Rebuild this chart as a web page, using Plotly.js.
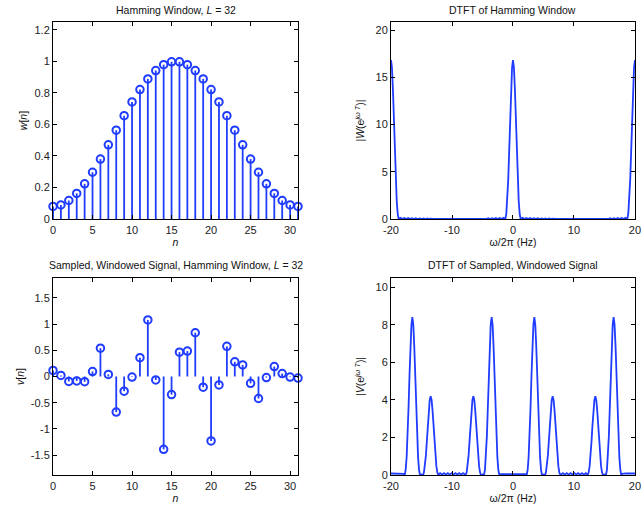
<!DOCTYPE html>
<html>
<head>
<meta charset="utf-8">
<script src="https://cdn.plot.ly/plotly-3.0.1.min.js"></script>
<style>html,body{margin:0;padding:0;background:#fff;}</style>
</head>
<body>
<div id="chart" style="width:641px;height:506px;"></div>
<script>
// ---- data ----
const sampleIndex = [0,1,2,3,4,5,6,7,8,9,10,11,12,13,14,15,16,17,18,19,20,21,22,23,24,25,26,27,28,29,30,31];
const hammingW = [0.08,0.0894,0.1173,0.1624,0.2231,0.2967,0.3802,0.4704,0.5633,0.6553,0.7426,0.8216,0.8890,0.9422,0.9793,0.9977,
                  0.9977,0.9793,0.9422,0.8890,0.8216,0.7426,0.6553,0.5633,0.4704,0.3802,0.2967,0.2231,0.1624,0.1173,0.0894,0.08];
const windowedV = [0.115,0.02,-0.095,-0.085,-0.10,0.095,0.54,0.04,-0.68,-0.28,-0.01,0.36,1.08,-0.065,-1.39,-0.345,
                   0.465,0.485,0.835,-0.205,-1.23,-0.16,0.575,0.28,0.22,-0.13,-0.42,-0.02,0.19,0.055,-0.01,-0.03];

const dtftFreqW = [-20,-19.844,-19.688,-19.531,-19.375,-19.219,-19.063,-18.906,-18.75,
  -18.438,-18.125,-17.813,-17.5,-17.188,-16.875,-16.563,-16.25,-15.938,-15.625,-15.313,-15,-14.688,-14.375,-14.063,-13.75,-13.438,-13.125,
  -10,-6.875,
  -6.563,-6.25,-5.938,-5.625,-5.313,-5,-4.688,-4.375,-4.063,-3.75,-3.438,-3.125,-2.813,-2.5,-2.188,-1.875,-1.563,-1.25,
  -1.094,-0.938,-0.781,-0.625,-0.469,-0.313,-0.156,0,0.156,0.313,0.469,0.625,0.781,0.938,1.094,1.25,
  1.563,1.875,2.188,2.5,2.813,3.125,3.438,3.75,4.063,4.375,4.688,5,5.313,5.625,5.938,6.25,6.563,6.875,
  10,13.125,
  13.438,13.75,14.063,14.375,14.688,15,15.313,15.625,15.938,16.25,16.563,16.875,17.188,17.5,17.813,18.125,18.438,18.75,
  18.906,19.063,19.219,19.375,19.531,19.688,19.844,20];
const dtftMagW = [16.82,16.0,13.74,10.58,7.16,4.14,1.90,0.57,0,
  0.12,0,0.11,0,0.10,0,0.09,0,0.08,0,0.07,0,0.06,0,0.05,0,0.04,0.01,
  0.02,0.01,
  0.04,0,0.05,0,0.06,0,0.07,0,0.08,0,0.09,0,0.10,0,0.11,0,0.12,0,
  0.57,1.90,4.14,7.16,10.58,13.74,16.0,16.82,16.0,13.74,10.58,7.16,4.14,1.90,0.57,0,
  0.12,0,0.11,0,0.10,0,0.09,0,0.08,0,0.07,0,0.06,0,0.05,0,0.04,0.01,
  0.02,0.01,
  0.04,0,0.05,0,0.06,0,0.07,0,0.08,0,0.09,0,0.10,0,0.11,0,0.12,0,
  0.57,1.90,4.14,7.16,10.58,13.74,16.0,16.82];

const dtftFreqV = [-20,-18.5,-17.9,
  -17.75,-17.594,-17.438,-17.281,-17.125,-16.969,-16.813,-16.656,-16.5,-16.344,-16.188,-16.031,-15.875,-15.719,-15.563,-15.406,-15.25,
  -15,
  -14.75,-14.594,-14.438,-14.281,-14.125,-13.969,-13.813,-13.656,-13.5,-13.344,-13.188,-13.031,-12.875,-12.719,-12.563,-12.406,-12.25,
  -11.938,-11.625,-11.313,-11,-10.688,-10.375,-10.063,-9.75,-9.438,-9.125,-8.813,-8.5,-8.188,-7.875,
  -7.75,-7.594,-7.438,-7.281,-7.125,-6.969,-6.813,-6.656,-6.5,-6.344,-6.188,-6.031,-5.875,-5.719,-5.563,-5.406,-5.25,
  -5,
  -4.75,-4.594,-4.438,-4.281,-4.125,-3.969,-3.813,-3.656,-3.5,-3.344,-3.188,-3.031,-2.875,-2.719,-2.563,-2.406,-2.25,
  -2,0,2,
  2.25,2.406,2.563,2.719,2.875,3.031,3.188,3.344,3.5,3.656,3.813,3.969,4.125,4.281,4.438,4.594,4.75,
  5,
  5.25,5.406,5.563,5.719,5.875,6.031,6.188,6.344,6.5,6.656,6.813,6.969,7.125,7.281,7.438,7.594,7.75,
  7.875,8.188,8.5,8.813,9.125,9.438,9.75,10.063,10.375,10.688,11,11.313,11.625,11.938,
  12.25,12.406,12.563,12.719,12.875,13.031,13.188,13.344,13.5,13.656,13.813,13.969,14.125,14.281,14.438,14.594,14.75,
  15,
  15.25,15.406,15.563,15.719,15.875,16.031,16.188,16.344,16.5,16.656,16.813,16.969,17.125,17.281,17.438,17.594,17.75,
  17.9,18.5,20];
const dtftMagV = [0.08,0.08,0.06,
  0,0.29,0.95,2.07,3.58,5.29,6.87,8.0,8.41,8.0,6.87,5.29,3.58,2.07,0.95,0.29,0,
  0.03,
  0,0.14,0.47,1.03,1.79,2.64,3.43,3.99,4.2,3.99,3.43,2.64,1.79,1.03,0.47,0.14,0,
  0.1,0.02,0.1,0.02,0.1,0.02,0.1,0.02,0.1,0.02,0.1,0.02,0.1,0.02,
  0,0.14,0.47,1.03,1.79,2.64,3.43,3.99,4.2,3.99,3.43,2.64,1.79,1.03,0.47,0.14,0,
  0.03,
  0,0.29,0.95,2.07,3.58,5.29,6.87,8.0,8.41,8.0,6.87,5.29,3.58,2.07,0.95,0.29,0,
  0.05,0.05,0.05,
  0,0.29,0.95,2.07,3.58,5.29,6.87,8.0,8.41,8.0,6.87,5.29,3.58,2.07,0.95,0.29,0,
  0.03,
  0,0.14,0.47,1.03,1.79,2.64,3.43,3.99,4.2,3.99,3.43,2.64,1.79,1.03,0.47,0.14,0,
  0.02,0.1,0.02,0.1,0.02,0.1,0.02,0.1,0.02,0.1,0.02,0.1,0.02,0.1,
  0,0.14,0.47,1.03,1.79,2.64,3.43,3.99,4.2,3.99,3.43,2.64,1.79,1.03,0.47,0.14,0,
  0.03,
  0,0.29,0.95,2.07,3.58,5.29,6.87,8.0,8.41,8.0,6.87,5.29,3.58,2.07,0.95,0.29,0,
  0.06,0.08,0.08];

const freqTickVals = [-20,-10,0,10,20];
const freqTickText = ['-20','-10','0','10','20'];
const vTickVals = [-1.5,-1,-0.5,0,0.5,1,1.5];
const vTickText = ['-1.5','-1','-0.5','0','0.5','1','1.5'];

// ---- drawing ----
const BLUE = '#1f3cff';
function stems(xs, ys) {
  const sx = [], sy = [];
  xs.forEach((x, i) => { sx.push(x, x, null); sy.push(0, ys[i], null); });
  return {sx, sy};
}
const s1 = stems(sampleIndex, hammingW);
const s3 = stems(sampleIndex, windowedV);

const markerStyle = {symbol: 'circle-open', size: 7.5, color: BLUE, line: {width: 2, color: BLUE}};
const traces = [
  {x: s1.sx, y: s1.sy, mode: 'lines', line: {color: BLUE, width: 1.8}, xaxis: 'x', yaxis: 'y', hoverinfo: 'skip'},
  {x: sampleIndex, y: hammingW, mode: 'markers', marker: markerStyle, xaxis: 'x', yaxis: 'y', cliponaxis: false},
  {x: dtftFreqW, y: dtftMagW, mode: 'lines', line: {color: BLUE, width: 1.8}, xaxis: 'x2', yaxis: 'y2'},
  {x: s3.sx, y: s3.sy, mode: 'lines', line: {color: BLUE, width: 1.8}, xaxis: 'x3', yaxis: 'y3', hoverinfo: 'skip'},
  {x: sampleIndex, y: windowedV, mode: 'markers', marker: markerStyle, xaxis: 'x3', yaxis: 'y3', cliponaxis: false},
  {x: dtftFreqV, y: dtftMagV, mode: 'lines', line: {color: BLUE, width: 1.8}, xaxis: 'x4', yaxis: 'y4'}
];

const FONT = 'Liberation Sans, Arial, Helvetica, sans-serif';
const tickFont = {family: FONT, size: 11, color: '#222'};
const titleFont = {family: FONT, size: 10.5, color: '#111'};
function ax(extra) {
  return Object.assign({
    showline: true, linecolor: '#000', linewidth: 1, mirror: 'ticks',
    ticks: 'inside', ticklen: 4, tickcolor: '#000', tickwidth: 1,
    showgrid: false, zeroline: false, tickfont: tickFont, fixedrange: true,
    ticklabeloverflow: 'allow'
  }, extra);
}
const L1 = [0.0827, 0.4649], L2 = [0.610, 0.9906];
const T = [0.5672, 0.9565], B = [0.0613, 0.4506];

const layout = {
  width: 641, height: 506,
  margin: {l: 0, r: 0, t: 0, b: 0},
  paper_bgcolor: '#fff', plot_bgcolor: '#fff',
  showlegend: false,
  font: {family: FONT, color: '#111'},
  xaxis: ax({domain: L1, anchor: 'y', range: [0, 31], dtick: 5, tick0: 0, ticklabelstandoff: 1,
    title: {text: '<i>n</i>', font: titleFont, standoff: 2}}),
  yaxis: ax({domain: T, anchor: 'x', range: [0, 1.25], dtick: 0.2, tick0: 0,
    title: {text: '<i>w</i>[<i>n</i>]', font: titleFont, standoff: 4}}),
  xaxis2: ax({domain: L2, anchor: 'y2', range: [-20, 20], tickvals: freqTickVals, ticktext: freqTickText, ticklabelstandoff: 1,
    title: {text: 'ω/2π (Hz)', font: titleFont, standoff: 2}}),
  yaxis2: ax({domain: T, anchor: 'x2', range: [0, 20.85], dtick: 5, tick0: 0,
    title: {text: '|<i>W</i>(e<sup><i>jω T</i></sup>)|', font: titleFont, standoff: 8}}),
  xaxis3: ax({domain: L1, anchor: 'y3', range: [0, 31], dtick: 5, tick0: 0, ticklabelstandoff: 1,
    title: {text: '<i>n</i>', font: titleFont, standoff: 2}}),
  yaxis3: ax({domain: B, anchor: 'x3', range: [-1.88, 1.88], tickvals: vTickVals, ticktext: vTickText,
    title: {text: '<i>v</i>[<i>n</i>]', font: titleFont, standoff: 4}}),
  xaxis4: ax({domain: L2, anchor: 'y4', range: [-20, 20], tickvals: freqTickVals, ticktext: freqTickText, ticklabelstandoff: 1,
    title: {text: 'ω/2π (Hz)', font: titleFont, standoff: 2}}),
  yaxis4: ax({domain: B, anchor: 'x4', range: [0, 10.5], dtick: 2, tick0: 0,
    title: {text: '|<i>V</i>(e<sup><i>jω T</i></sup>)|', font: titleFont, standoff: 8}}),
  annotations: [
    {text: 'Hamming Window, <i>L</i> = 32', x: (L1[0]+L1[1])/2, y: 0.980},
    {text: 'DTFT of Hamming Window', x: (L2[0]+L2[1])/2, y: 0.980},
    {text: 'Sampled, Windowed Signal, Hamming Window, <i>L</i> = 32', x: (L1[0]+L1[1])/2, y: 0.4763},
    {text: 'DTFT of Sampled, Windowed Signal', x: (L2[0]+L2[1])/2, y: 0.4763}
  ].map(a => Object.assign({xref: 'paper', yref: 'paper', xanchor: 'center', yanchor: 'middle',
    showarrow: false, font: {family: FONT, size: 10.5, color: '#111'}}, a))
};

Plotly.newPlot('chart', traces, layout, {displayModeBar: false, staticPlot: true});
</script>
</body>
</html>
